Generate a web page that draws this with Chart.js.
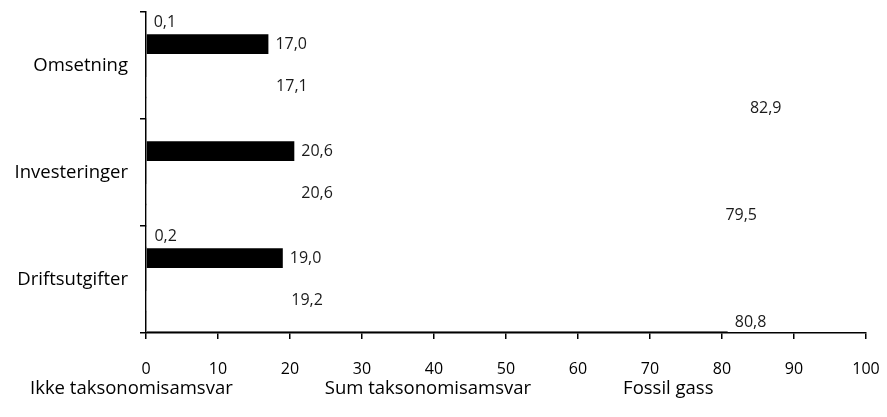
<!DOCTYPE html>
<html>
<head>
<meta charset="utf-8">
<script src="https://cdn.jsdelivr.net/npm/chart.js@4/dist/chart.umd.min.js"></script>
<style>
  html, body { margin: 0; padding: 0; background: #fff; }
  #wrap { width: 887px; height: 417px; position: relative; }
</style>
</head>
<body>
<div id="wrap"><canvas id="c"></canvas></div>
<script>
// Andel av omsetning, investeringer og driftsutgifter (prosent)
const categories = ['Omsetning', 'Investeringer', 'Driftsutgifter'];
const fossilGass = [0.1, 0, 0.2];
const ovrigSamsvar = [17.0, 20.6, 19.0];
const kjernekraft = [0, 0, 0];
const sumSamsvar = [17.1, 20.6, 19.2];
const ikkeSamsvar = [82.9, 79.5, 80.8];
const xTickValues = [0, 10, 20, 30, 40, 50, 60, 70, 80, 90, 100];

const legendNames = ['Ikke taksonomisamsvar', 'Sum taksonomisamsvar', 'Fossil gass'];
const FONT = "'Open Sans', 'Noto Sans', sans-serif";

// Verdietiketter til høyre for hver søyle, norsk desimalkomma
const valueLabels = {
  id: 'valueLabels',
  afterDatasetsDraw(chart) {
    const ctx = chart.ctx;
    ctx.save();
    ctx.font = '16px ' + FONT;
    ctx.fillStyle = '#1a1a1a';
    ctx.textAlign = 'left';
    ctx.textBaseline = 'middle';
    chart.data.datasets.forEach((ds, di) => {
      const meta = chart.getDatasetMeta(di);
      if (meta.hidden) return;
      meta.data.forEach((bar, i) => {
        const v = ds.data[i];
        if (!v) return;
        ctx.fillText(v.toFixed(1).replace('.', ','), bar.x + 7, bar.y);
      });
    });
    ctx.restore();
  }
};

new Chart(document.getElementById('c'), {
  type: 'bar',
  data: {
    labels: categories,
    datasets: [
      { label: 'Fossil gass', data: fossilGass, backgroundColor: '#ffffff', borderWidth: 0 },
      { label: 'Øvrig taksonomisamsvar', data: ovrigSamsvar, backgroundColor: '#000000', borderWidth: 0 },
      { label: 'Kjernekraft', data: kjernekraft, backgroundColor: '#ffffff', borderWidth: 0 },
      { label: 'Sum taksonomisamsvar', data: sumSamsvar, backgroundColor: '#ffffff', borderWidth: 0 },
      {
        label: 'Ikke taksonomisamsvar', data: ikkeSamsvar, backgroundColor: '#ffffff',
        borderColor: '#000000', borderSkipped: false,
        borderWidth: (c) => c.dataIndex === 2 ? { top: 0, left: 0, right: 0, bottom: 1 } : 0
      }
    ]
  },
  options: {
    indexAxis: 'y',
    responsive: true,
    maintainAspectRatio: false,
    animation: false,
    datasets: { bar: { barPercentage: 0.93, categoryPercentage: 1.0 } },
    layout: { padding: { top: 12, right: 21, bottom: 9, left: -62 } },
    scales: {
      x: {
        min: 0, max: 100,
        afterBuildTicks(scale) { scale.ticks = xTickValues.map(v => ({ value: v })); },
        afterFit(scale) { scale.height = 44.5; scale.paddingLeft = 0; scale.paddingRight = 0; },
        border: { display: true, color: '#000', width: 1.5 },
        grid: { display: true, drawOnChartArea: false, drawTicks: true, tickLength: 6, color: '#000', lineWidth: 1.5 },
        ticks: { color: '#000', font: { family: FONT, size: 16 }, padding: 21, maxRotation: 0 }
      },
      y: {
        afterFit(scale) { scale.width = 208; scale.paddingTop = 0; scale.paddingBottom = 0; },
        border: { display: true, color: '#000', width: 1.5 },
        grid: { display: true, offset: true, drawOnChartArea: false, drawTicks: true, tickLength: 6, color: '#000', lineWidth: 1.5 },
        ticks: { color: '#000', font: { family: FONT, size: 18.5 }, padding: 12 }
      }
    },
    plugins: {
      tooltip: { enabled: false },
      legend: {
        display: true,
        position: 'bottom',
        align: 'start',
        labels: {
          color: '#000',
          font: { family: FONT, size: 18.5 },
          boxWidth: 80.75,
          boxHeight: 18.5,
          padding: 2,
          filter: (item) => legendNames.includes(item.text),
          sort: (a, b) => b.datasetIndex - a.datasetIndex,
          generateLabels(chart) {
            const items = Chart.defaults.plugins.legend.labels.generateLabels(chart);
            items.forEach(it => {
              it.fillStyle = 'rgba(0,0,0,0)';
              it.strokeStyle = 'rgba(0,0,0,0)';
              it.lineWidth = 0;
            });
            return items;
          }
        }
      }
    }
  },
  plugins: [valueLabels]
});
</script>
</body>
</html>
